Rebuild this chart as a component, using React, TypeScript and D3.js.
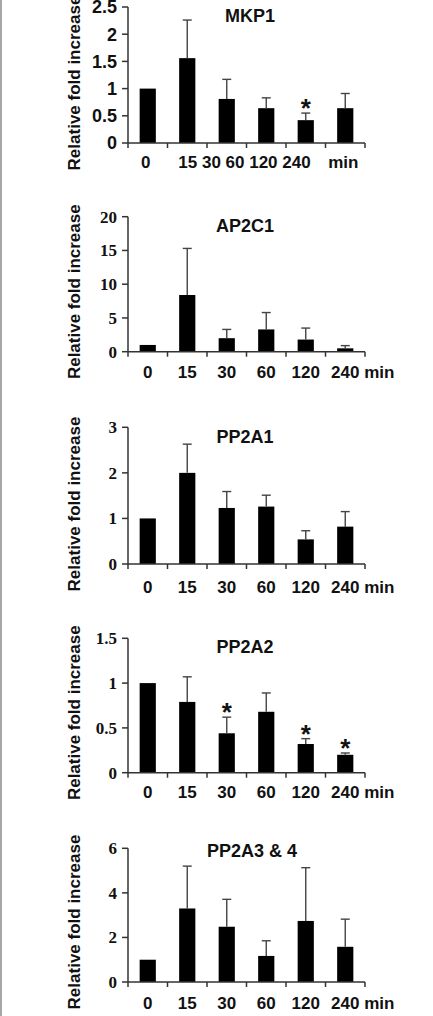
import * as d3 from "d3";

// time points (min) shared by all panels
const timePoints = ["0", "15", "30", "60", "120", "240"];

// MKP1
const mkp1Mean = [1.0, 1.56, 0.81, 0.64, 0.42, 0.64];
const mkp1Err = [0, 0.7, 0.36, 0.19, 0.13, 0.27];
const mkp1Sig = [false, false, false, false, true, false];
const mkp1Ticks = [0, 0.5, 1, 1.5, 2, 2.5];

// AP2C1
const ap2c1Mean = [1.0, 8.4, 2.0, 3.3, 1.8, 0.5];
const ap2c1Err = [0, 6.9, 1.3, 2.5, 1.7, 0.4];
const ap2c1Sig = [false, false, false, false, false, false];
const ap2c1Ticks = [0, 5, 10, 15, 20];

// PP2A1
const pp2a1Mean = [1.0, 2.0, 1.23, 1.26, 0.54, 0.82];
const pp2a1Err = [0, 0.63, 0.36, 0.25, 0.19, 0.33];
const pp2a1Sig = [false, false, false, false, false, false];
const pp2a1Ticks = [0, 1, 2, 3];

// PP2A2
const pp2a2Mean = [1.0, 0.79, 0.44, 0.68, 0.32, 0.2];
const pp2a2Err = [0, 0.28, 0.18, 0.21, 0.06, 0.02];
const pp2a2Sig = [false, false, true, false, true, true];
const pp2a2Ticks = [0, 0.5, 1, 1.5];

// PP2A3 & 4
const pp2a34Mean = [1.0, 3.3, 2.48, 1.17, 2.74, 1.58];
const pp2a34Err = [0, 1.9, 1.23, 0.68, 2.39, 1.24];
const pp2a34Sig = [false, false, false, false, false, false];
const pp2a34Ticks = [0, 2, 4, 6];

// MKP1 has its x labels squeezed together: [text, first band, last band]
const mkp1XLabels: [string, number, number][] = [
  ["0", 0, 0],
  ["15 30 60 120 240", 1, 4],
  ["min", 5, 5],
];

const ARIAL = "'Liberation Sans', Arial, sans-serif";
const TIMES = "'Liberation Serif', 'Times New Roman', serif";

const panels = [
  { title: "MKP1", mean: mkp1Mean, err: mkp1Err, sig: mkp1Sig, ticks: mkp1Ticks,
    y0: 143, top: 7, titleX: 250, titleY: 22, labelY: 168, tickFont: ARIAL, tickSize: 18 },
  { title: "AP2C1", mean: ap2c1Mean, err: ap2c1Err, sig: ap2c1Sig, ticks: ap2c1Ticks,
    y0: 351.7, top: 216.7, titleX: 245, titleY: 232, labelY: 378, tickFont: TIMES, tickSize: 17 },
  { title: "PP2A1", mean: pp2a1Mean, err: pp2a1Err, sig: pp2a1Sig, ticks: pp2a1Ticks,
    y0: 564, top: 427.3, titleX: 245, titleY: 443, labelY: 593, tickFont: TIMES, tickSize: 17 },
  { title: "PP2A2", mean: pp2a2Mean, err: pp2a2Err, sig: pp2a2Sig, ticks: pp2a2Ticks,
    y0: 772.7, top: 638.3, titleX: 245, titleY: 653, labelY: 798, tickFont: TIMES, tickSize: 17 },
  { title: "PP2A3 & 4", mean: pp2a34Mean, err: pp2a34Err, sig: pp2a34Sig, ticks: pp2a34Ticks,
    y0: 982, top: 848.3, titleX: 252, titleY: 857, labelY: 1009, tickFont: TIMES, tickSize: 17 },
];

const axisLeft = 128;
const axisRight = 365;
const axisColor = "#333";

const x = d3.scaleBand<string>()
  .domain(timePoints)
  .range([axisLeft, axisRight])
  .paddingInner(0.59)
  .paddingOuter(0.295);

function Panel({ p, idx }: { p: (typeof panels)[number]; idx: number }) {
  const max = p.ticks[p.ticks.length - 1];
  const y = d3.scaleLinear().domain([0, max]).range([p.y0, p.top]);
  const bw = x.bandwidth();
  const step = x.step();
  const boundaries = d3.range(timePoints.length + 1).map((i) => axisLeft + i * step);
  const center = (i: number) => (x(timePoints[i]) as number) + bw / 2;

  return (
    <g>
      {/* y label */}
      <text
        transform={`translate(80,${p.y0 - 60}) rotate(-90)`}
        textAnchor="middle"
        fontFamily={ARIAL}
        fontWeight="bold"
        fontSize={17}
        fill="#111"
      >
        Relative fold increase
      </text>

      {/* title */}
      <text x={p.titleX} y={p.titleY} textAnchor="middle" fontFamily={ARIAL} fontWeight="bold" fontSize={18} fill="#111">
        {p.title}
      </text>

      {/* bars */}
      {p.mean.map((m, i) => (
        <rect key={i} x={x(timePoints[i])} y={y(m)} width={bw} height={p.y0 - y(m)} fill="#000" />
      ))}

      {/* error bars */}
      {p.mean.map((m, i) =>
        p.err[i] > 0 ? (
          <g key={i} stroke="#444" strokeWidth={1.4}>
            <line x1={center(i)} x2={center(i)} y1={y(m)} y2={y(m + p.err[i])} />
            <line x1={center(i) - 4.5} x2={center(i) + 4.5} y1={y(m + p.err[i])} y2={y(m + p.err[i])} />
          </g>
        ) : null
      )}

      {/* significance */}
      {p.mean.map((m, i) =>
        p.sig[i] ? (
          <text key={i} x={center(i)} y={y(m + p.err[i]) + 4} textAnchor="middle" fontFamily={ARIAL} fontWeight="bold" fontSize={26} fill="#111">
            *
          </text>
        ) : null
      )}

      {/* y axis */}
      <line x1={axisLeft} x2={axisLeft} y1={p.y0} y2={p.top} stroke={axisColor} strokeWidth={1.5} />
      {p.ticks.map((t) => (
        <g key={t}>
          <line x1={axisLeft - 6} x2={axisLeft} y1={y(t)} y2={y(t)} stroke={axisColor} strokeWidth={1.5} />
          <text x={117} y={y(t)} dy="0.35em" textAnchor="end" fontFamily={p.tickFont} fontWeight="bold" fontSize={p.tickSize} fill="#111">
            {d3.format("~g")(t)}
          </text>
        </g>
      ))}

      {/* x axis */}
      <line x1={axisLeft} x2={axisRight} y1={p.y0} y2={p.y0} stroke={axisColor} strokeWidth={1.5} />
      {boundaries.map((bx, i) => (
        <line key={i} x1={bx} x2={bx} y1={p.y0} y2={p.y0 + 5} stroke={axisColor} strokeWidth={1.5} />
      ))}

      {/* x labels */}
      {idx === 0
        ? mkp1XLabels.map(([t, a, b]) => (
            <text key={t} x={(center(a) + center(b)) / 2 - 2} y={p.labelY} textAnchor="middle" fontFamily={ARIAL} fontWeight="bold" fontSize={17} fill="#111">
              {t}
            </text>
          ))
        : (
          <>
            {timePoints.map((t, i) => (
              <text key={t} x={center(i)} y={p.labelY} textAnchor="middle" fontFamily={ARIAL} fontWeight="bold" fontSize={17} fill="#111">
                {t}
              </text>
            ))}
            <text x={center(timePoints.length - 1) + 19} y={p.labelY} fontFamily={ARIAL} fontWeight="bold" fontSize={17} fill="#111">
              min
            </text>
          </>
        )}
    </g>
  );
}

export default function App() {
  return (
    <svg width={433} height={1016} style={{ position: "absolute", left: 0, top: 0, background: "#fff" }}>
      <rect x={0} y={0} width={433} height={1016} fill="#fff" />
      <line x1={1} x2={1} y1={0} y2={1016} stroke="#a6a6a6" strokeWidth={2} />
      {panels.map((p, i) => (
        <Panel key={p.title} p={p} idx={i} />
      ))}
    </svg>
  );
}
